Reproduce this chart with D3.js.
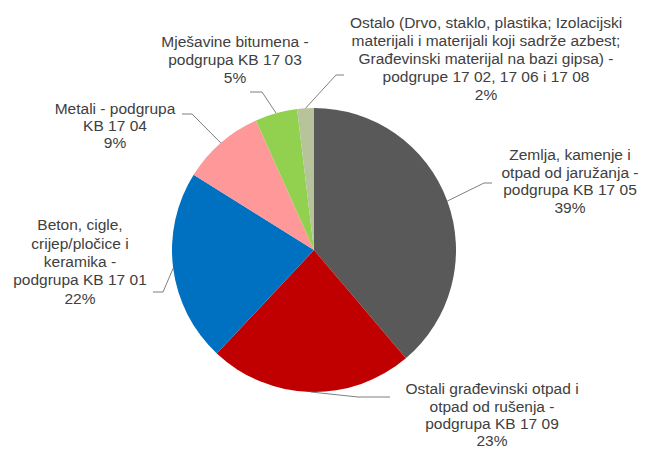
<!DOCTYPE html>
<html>
<head>
<meta charset="utf-8">
<script src="https://cdn.jsdelivr.net/npm/d3@7"></script>
<style>
  body { margin: 0; background: #fff; }
  text { font-family: "Liberation Sans", Arial, sans-serif; fill: #404040; }
</style>
</head>
<body>
<div id="chart"></div>
<script>
const categories = [
  "Zemlja, kamenje i otpad od jaružanja - podgrupa KB 17 05",
  "Ostali građevinski otpad i otpad od rušenja - podgrupa KB 17 09",
  "Beton, cigle, crijep/pločice i keramika - podgrupa KB 17 01",
  "Metali - podgrupa KB 17 04",
  "Mješavine bitumena - podgrupa KB 17 03",
  "Ostalo (Drvo, staklo, plastika; Izolacijski materijali i materijali koji sadrže azbest; Građevinski materijal na bazi gipsa) - podgrupe 17 02, 17 06 i 17 08"
];
const shares = [38.8, 23.2, 21.9, 9.4, 4.8, 1.9];
const labelLines = [
  ["Zemlja, kamenje i", "otpad od jaružanja -", "podgrupa KB 17 05"],
  ["Ostali građevinski otpad i", "otpad od rušenja -", "podgrupa KB 17 09"],
  ["Beton, cigle,", "crijep/pločice i", "keramika -", "podgrupa KB 17 01"],
  ["Metali  - podgrupa", "KB 17 04"],
  ["Mješavine bitumena -", "podgrupa KB 17 03"],
  ["Ostalo (Drvo, staklo, plastika; Izolacijski", "materijali i materijali koji sadrže azbest;",
   "Građevinski materijal na bazi gipsa) -", "podgrupe 17 02, 17 06 i 17 08"]
];
const colors = ["#595959", "#C00000", "#0070C0", "#FF9999", "#92D050", "#B7C39A"];

// label layout: text centre x, first line centre y, line gap, leader elbow and end
const labelLayout = [
  { x: 570, y: 155, gap: 17.5, elbow: [484, 183], end: [492, 183] },
  { x: 492, y: 389, gap: 17.3, elbow: [358, 397], end: [390, 397] },
  { x: 80, y: 225, gap: 18.3, elbow: [163, 292], end: [153, 292] },
  { x: 115, y: 109, gap: 17, elbow: [192, 114], end: [182, 114] },
  { x: 235, y: 42, gap: 18, elbow: [262, 92], end: [250, 92] },
  { x: 486, y: 22.7, gap: 17.9, elbow: [336, 75], end: [344, 75] }
];

const width = 646, height = 450;
const cx = 314, cy = 250, radius = 142;
const fontSize = 15.5;

const svg = d3.select("#chart").append("svg")
  .attr("width", width)
  .attr("height", height);

const data = categories.map((c, i) => ({ name: c, value: shares[i], lines: labelLines[i], i: i }));

const pie = d3.pie().sort(null).value(d => d.value);
const arc = d3.arc().innerRadius(0).outerRadius(radius);
const edge = d3.arc().innerRadius(radius).outerRadius(radius);

const arcs = pie(data);

const g = svg.append("g").attr("transform", "translate(" + cx + "," + cy + ")");

g.selectAll("path.slice")
  .data(arcs)
  .enter()
  .append("path")
    .attr("class", "slice")
    .attr("d", arc)
    .attr("fill", d => colors[d.data.i]);

// leader lines
svg.selectAll("polyline.leader")
  .data(arcs)
  .enter()
  .append("polyline")
    .attr("class", "leader")
    .attr("points", d => {
      const p = edge.centroid(d);
      const L = labelLayout[d.data.i];
      return [[cx + p[0], cy + p[1]], L.elbow, L.end].map(q => q.join(",")).join(" ");
    })
    .attr("fill", "none")
    .attr("stroke", "#7f7f7f")
    .attr("stroke-width", 1);

// labels
const labels = svg.selectAll("text.lbl")
  .data(arcs)
  .enter()
  .append("text")
    .attr("class", "lbl")
    .attr("text-anchor", "middle")
    .style("font-size", fontSize + "px");

labels.each(function(d) {
  const L = labelLayout[d.data.i];
  const lines = d.data.lines.concat([Math.round(d.data.value) + "%"]);
  d3.select(this).selectAll("tspan")
    .data(lines)
    .enter()
    .append("tspan")
      .attr("x", L.x)
      .attr("y", (t, k) => L.y + k * L.gap + fontSize * 0.35)
      .text(t => t);
});
</script>
</body>
</html>
